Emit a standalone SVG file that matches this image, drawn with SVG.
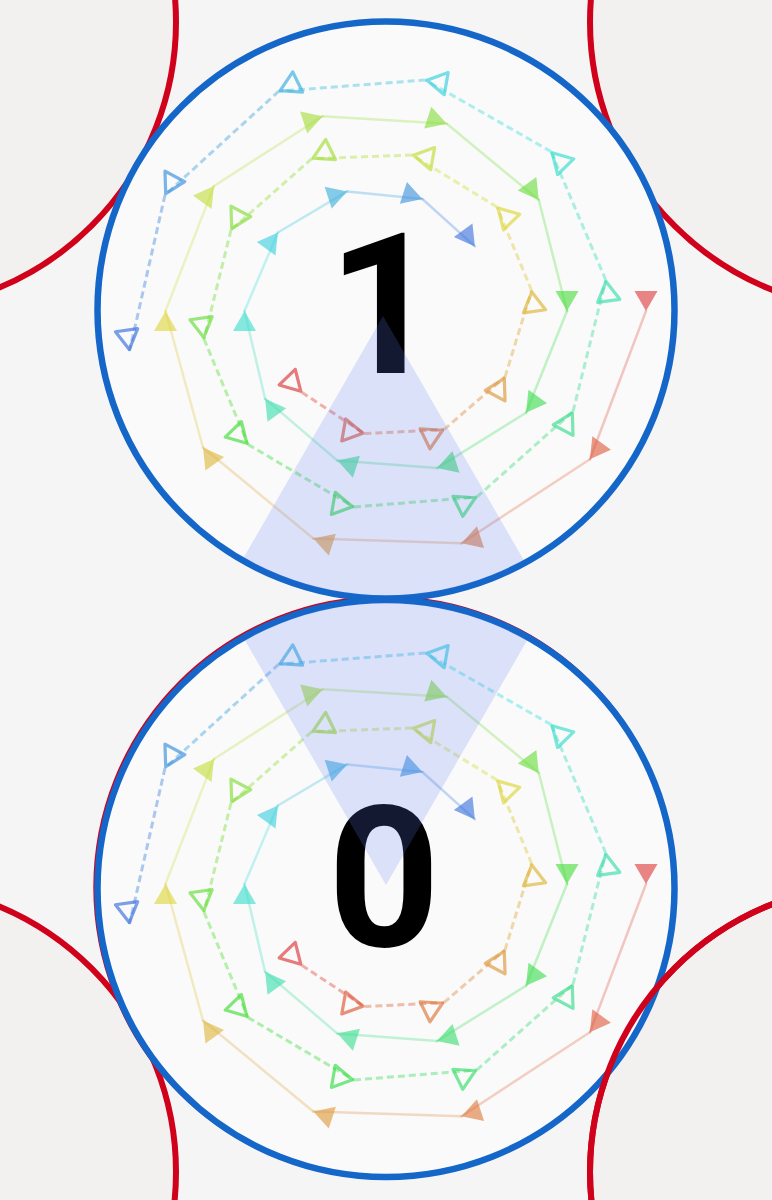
<svg xmlns="http://www.w3.org/2000/svg" width="772" height="1200" viewBox="0 0 772 1200">
<style>
.bg{fill:#f5f5f5}
.red{fill:#f2f1f0;stroke:#d0021b;stroke-width:6}
.redline{fill:none;stroke:#d0021b;stroke-width:6}
.blue{fill:#fafafa;stroke:#1466c8;stroke-width:6.5}
.num{font-family:Roboto,"Liberation Sans",Arimo,sans-serif;font-weight:bold;font-size:196px;fill:#000;text-anchor:middle}
.cone{fill:rgb(98,127,250);fill-opacity:0.2}
.seg{fill:none;stroke-width:2.5;stroke-opacity:0.3;stroke-linecap:round}
.dash{fill:none;stroke-width:3;stroke-opacity:0.42;stroke-dasharray:7 4}
.mk{fill-opacity:0.62;stroke:none}
.hm{fill:none;stroke-width:3.2;stroke-opacity:0.68;stroke-linejoin:round}
</style>
<defs>
<path id="tf" d="M0,0 L-20,-11.5 L-20,11.5 Z"/>
<path id="th" d="M-1.5,0 L-21,-11.2 L-21,11.2 Z"/>
<clipPath id="clip1"><circle cx="386" cy="310" r="286"/></clipPath>
<clipPath id="clip0"><circle cx="386" cy="888.5" r="286"/></clipPath>
</defs>
<rect class="bg" x="0" y="0" width="772" height="1200"/>
<g id="corner-circles">
<circle class="red" cx="-112" cy="22" r="288"/>
<circle class="red" cx="878" cy="22" r="288"/>
<circle class="red" cx="-112" cy="1172" r="288"/>
<circle class="red" cx="878" cy="1172" r="288"/>
<circle class="redline" cx="384.8" cy="887.3" r="288.5"/>
</g>
<g id="node-1"><circle class="blue" cx="386" cy="310" r="288.5"/></g>
<g id="node-0"><circle class="blue" cx="386" cy="888.5" r="288.5"/></g>
<circle class="redline" cx="878" cy="1172" r="288"/>
<g id="connectors">
<g id="spiral">
<g id="solid-spiral">
<line class="seg" x1="646" y1="311" x2="589.9" y2="459.2" stroke="hsl(6,70%,55%)"/>
<line class="seg" x1="589.9" y1="459.2" x2="461.5" y2="543.3" stroke="hsl(17,70%,55%)"/>
<line class="seg" x1="461.5" y1="543.3" x2="313.3" y2="538.5" stroke="hsl(29,70%,55%)"/>
<line class="seg" x1="313.3" y1="538.5" x2="203" y2="447.5" stroke="hsl(41,70%,55%)"/>
<line class="seg" x1="203" y1="447.5" x2="165.5" y2="311" stroke="hsl(52,70%,55%)"/>
<line class="seg" x1="165.5" y1="311" x2="214" y2="186" stroke="hsl(64,70%,55%)"/>
<line class="seg" x1="214" y1="186" x2="322.7" y2="116.3" stroke="hsl(75,70%,55%)"/>
<line class="seg" x1="322.7" y1="116.3" x2="446.8" y2="123.8" stroke="hsl(87,70%,55%)"/>
<line class="seg" x1="446.8" y1="123.8" x2="538.8" y2="200" stroke="hsl(99,70%,55%)"/>
<line class="seg" x1="538.8" y1="200" x2="567" y2="311" stroke="hsl(110,70%,55%)"/>
<line class="seg" x1="567" y1="311" x2="526" y2="412.7" stroke="hsl(122,70%,55%)"/>
<line class="seg" x1="526" y1="412.7" x2="437" y2="468.1" stroke="hsl(133,70%,55%)"/>
<line class="seg" x1="437" y1="468.1" x2="337.4" y2="460.6" stroke="hsl(145,70%,55%)"/>
<line class="seg" x1="337.4" y1="460.6" x2="265.1" y2="398.8" stroke="hsl(156,70%,55%)"/>
<line class="seg" x1="265.1" y1="398.8" x2="244.5" y2="311" stroke="hsl(168,70%,55%)"/>
<line class="seg" x1="244.5" y1="311" x2="277.9" y2="232.5" stroke="hsl(180,70%,55%)"/>
<line class="seg" x1="277.9" y1="232.5" x2="347.2" y2="191.4" stroke="hsl(191,70%,55%)"/>
<line class="seg" x1="347.2" y1="191.4" x2="422.4" y2="199" stroke="hsl(203,70%,55%)"/>
<line class="seg" x1="422.4" y1="199" x2="474.9" y2="246.4" stroke="hsl(214,70%,55%)"/>
<use href="#tf" class="mk" fill="hsl(0,70%,55%)" transform="translate(646 311) rotate(90)"/>
<use href="#tf" class="mk" fill="hsl(12,70%,55%)" transform="translate(589.9 459.2) rotate(126)"/>
<use href="#tf" class="mk" fill="hsl(23,70%,55%)" transform="translate(461.5 543.3) rotate(162)"/>
<use href="#tf" class="mk" fill="hsl(35,70%,55%)" transform="translate(313.3 538.5) rotate(198)"/>
<use href="#tf" class="mk" fill="hsl(46,70%,55%)" transform="translate(203 447.5) rotate(234)"/>
<use href="#tf" class="mk" fill="hsl(58,70%,55%)" transform="translate(165.5 311) rotate(270)"/>
<use href="#tf" class="mk" fill="hsl(69,70%,55%)" transform="translate(214 186) rotate(306)"/>
<use href="#tf" class="mk" fill="hsl(81,70%,55%)" transform="translate(322.7 116.3) rotate(342)"/>
<use href="#tf" class="mk" fill="hsl(93,70%,55%)" transform="translate(446.8 123.8) rotate(18)"/>
<use href="#tf" class="mk" fill="hsl(104,70%,55%)" transform="translate(538.8 200) rotate(54)"/>
<use href="#tf" class="mk" fill="hsl(116,70%,55%)" transform="translate(567 311) rotate(90)"/>
<use href="#tf" class="mk" fill="hsl(127,70%,55%)" transform="translate(526 412.7) rotate(126)"/>
<use href="#tf" class="mk" fill="hsl(139,70%,55%)" transform="translate(437 468.1) rotate(162)"/>
<use href="#tf" class="mk" fill="hsl(151,70%,55%)" transform="translate(337.4 460.6) rotate(198)"/>
<use href="#tf" class="mk" fill="hsl(162,70%,55%)" transform="translate(265.1 398.8) rotate(234)"/>
<use href="#tf" class="mk" fill="hsl(174,70%,55%)" transform="translate(244.5 311) rotate(270)"/>
<use href="#tf" class="mk" fill="hsl(185,70%,55%)" transform="translate(277.9 232.5) rotate(306)"/>
<use href="#tf" class="mk" fill="hsl(197,70%,55%)" transform="translate(347.2 191.4) rotate(342)"/>
<use href="#tf" class="mk" fill="hsl(208,70%,55%)" transform="translate(422.4 199) rotate(18)"/>
<use href="#tf" class="mk" fill="hsl(220,70%,55%)" transform="translate(474.9 246.4) rotate(54)"/>
</g>
<g id="dashed-spiral">
<line class="dash" x1="301.8" y1="392.3" x2="364.4" y2="433.6" stroke="hsl(6,70%,55%)"/>
<line class="dash" x1="364.4" y1="433.6" x2="443.9" y2="429.6" stroke="hsl(17,70%,55%)"/>
<line class="dash" x1="443.9" y1="429.6" x2="505" y2="377" stroke="hsl(29,70%,55%)"/>
<line class="dash" x1="505" y1="377" x2="531.6" y2="290.5" stroke="hsl(41,70%,55%)"/>
<line class="dash" x1="531.6" y1="290.5" x2="497" y2="207" stroke="hsl(52,70%,55%)"/>
<line class="dash" x1="497" y1="207" x2="412" y2="155" stroke="hsl(64,70%,55%)"/>
<line class="dash" x1="412" y1="155" x2="311.7" y2="158.7" stroke="hsl(75,70%,55%)"/>
<line class="dash" x1="311.7" y1="158.7" x2="231" y2="230" stroke="hsl(87,70%,55%)"/>
<line class="dash" x1="231" y1="230" x2="204" y2="339" stroke="hsl(99,70%,55%)"/>
<line class="dash" x1="204" y1="339" x2="247.9" y2="444.4" stroke="hsl(110,70%,55%)"/>
<line class="dash" x1="247.9" y1="444.4" x2="354" y2="507" stroke="hsl(122,70%,55%)"/>
<line class="dash" x1="354" y1="507" x2="476.7" y2="497.1" stroke="hsl(133,70%,55%)"/>
<line class="dash" x1="476.7" y1="497.1" x2="573" y2="411.5" stroke="hsl(145,70%,55%)"/>
<line class="dash" x1="573" y1="411.5" x2="605.8" y2="280.1" stroke="hsl(156,70%,55%)"/>
<line class="dash" x1="605.8" y1="280.1" x2="551.1" y2="151.6" stroke="hsl(168,70%,55%)"/>
<line class="dash" x1="551.1" y1="151.6" x2="425.5" y2="80" stroke="hsl(180,70%,55%)"/>
<line class="dash" x1="425.5" y1="80" x2="278.8" y2="91.2" stroke="hsl(191,70%,55%)"/>
<line class="dash" x1="278.8" y1="91.2" x2="165" y2="195" stroke="hsl(203,70%,55%)"/>
<line class="dash" x1="165" y1="195" x2="129.5" y2="351" stroke="hsl(214,70%,55%)"/>
<use href="#th" class="hm" stroke="hsl(0,70%,55%)" transform="translate(301.8 392.3) rotate(46)"/>
<use href="#th" class="hm" stroke="hsl(12,70%,55%)" transform="translate(364.4 433.6) rotate(10)"/>
<use href="#th" class="hm" stroke="hsl(23,70%,55%)" transform="translate(443.9 429.6) rotate(-26)"/>
<use href="#th" class="hm" stroke="hsl(35,70%,55%)" transform="translate(505 377) rotate(-62)"/>
<use href="#th" class="hm" stroke="hsl(46,70%,55%)" transform="translate(531.6 290.5) rotate(-98)"/>
<use href="#th" class="hm" stroke="hsl(58,70%,55%)" transform="translate(497 207) rotate(-134)"/>
<use href="#th" class="hm" stroke="hsl(69,70%,55%)" transform="translate(412 155) rotate(-170)"/>
<use href="#th" class="hm" stroke="hsl(81,70%,55%)" transform="translate(311.7 158.7) rotate(154)"/>
<use href="#th" class="hm" stroke="hsl(93,70%,55%)" transform="translate(231 230) rotate(118)"/>
<use href="#th" class="hm" stroke="hsl(104,70%,55%)" transform="translate(204 339) rotate(82)"/>
<use href="#th" class="hm" stroke="hsl(116,70%,55%)" transform="translate(247.9 444.4) rotate(46)"/>
<use href="#th" class="hm" stroke="hsl(127,70%,55%)" transform="translate(354 507) rotate(10)"/>
<use href="#th" class="hm" stroke="hsl(139,70%,55%)" transform="translate(476.7 497.1) rotate(-26)"/>
<use href="#th" class="hm" stroke="hsl(151,70%,55%)" transform="translate(573 411.5) rotate(-62)"/>
<use href="#th" class="hm" stroke="hsl(162,70%,55%)" transform="translate(605.8 280.1) rotate(-98)"/>
<use href="#th" class="hm" stroke="hsl(174,70%,55%)" transform="translate(551.1 151.6) rotate(-134)"/>
<use href="#th" class="hm" stroke="hsl(185,70%,55%)" transform="translate(425.5 80) rotate(-170)"/>
<use href="#th" class="hm" stroke="hsl(197,70%,55%)" transform="translate(278.8 91.2) rotate(154)"/>
<use href="#th" class="hm" stroke="hsl(208,70%,55%)" transform="translate(165 195) rotate(118)"/>
<use href="#th" class="hm" stroke="hsl(220,70%,55%)" transform="translate(129.5 351) rotate(82)"/>
</g>
</g>
<use href="#spiral" transform="translate(0 573)"/>
</g>
<g id="labels">
<text class="num" x="384" y="373">1</text>
<text class="num" x="384" y="946">0</text>
</g>
<g id="cones">
<polygon class="cone" clip-path="url(#clip1)" points="383,316 37,916 729,916"/>
<polygon class="cone" clip-path="url(#clip0)" points="386,885 40,285 732,285"/>
</g>
</svg>
